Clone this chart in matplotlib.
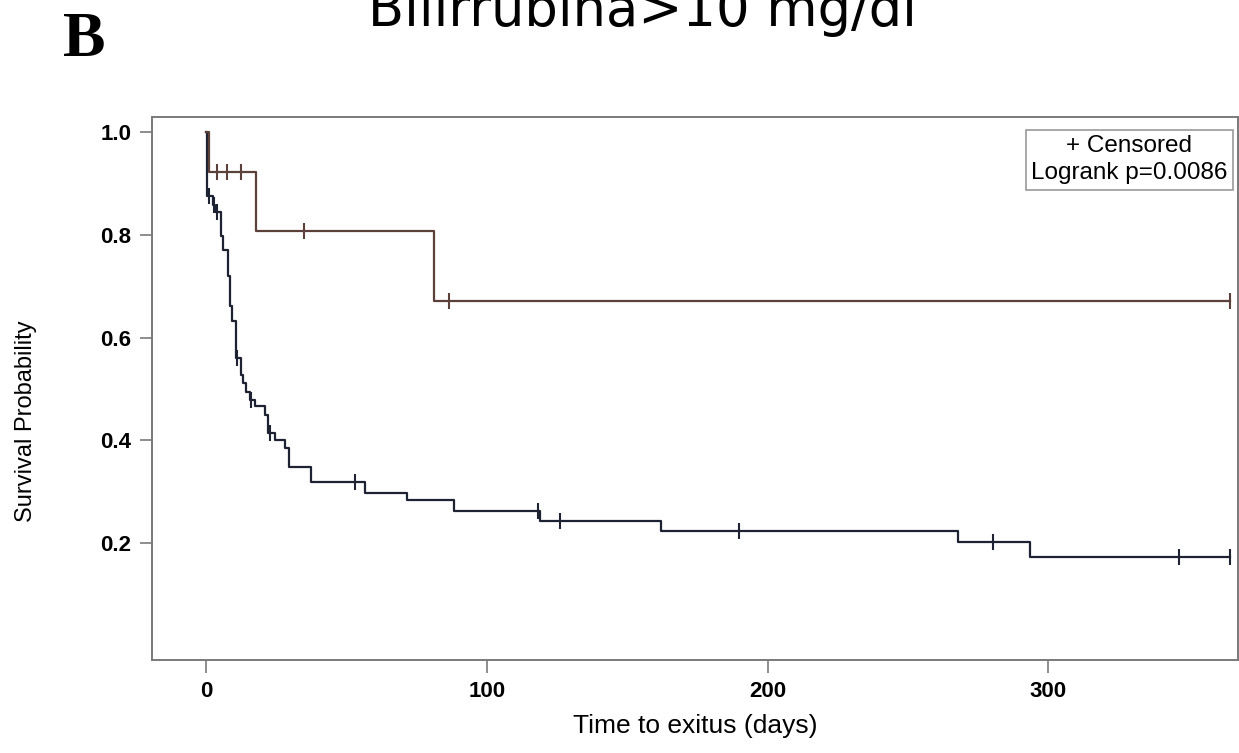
import numpy as np
import matplotlib
matplotlib.use("Agg")
import matplotlib.pyplot as plt

# Kaplan-Meier estimates, bilirubin > 10 mg/dl
# group 1 (upper curve)
t_hi = [0, 1, 17.5, 81.2]
s_hi = [1.0, 0.923, 0.808, 0.672]
cens_hi = [3.7, 7.3, 12.2, 34.8, 86.5, 365]
end_hi = 365

# group 2 (lower curve)
t_lo = [0, 0.3, 2.3, 3.0, 5.3, 6.0, 7.6, 8.4, 9.0, 10.5, 10.7, 12.3, 13.0, 14.0,
        15.6, 17.3, 20.9, 22.0, 24.5, 28.1, 29.6, 37.2, 56.5, 71.4, 88.3,
        118.9, 162.0, 268.0, 293.6]
s_lo = [1.0, 0.876, 0.859, 0.844, 0.798, 0.770, 0.720, 0.662, 0.632, 0.616,
        0.561, 0.528, 0.512, 0.495, 0.479, 0.466, 0.450, 0.415, 0.401, 0.385,
        0.349, 0.318, 0.297, 0.283, 0.263, 0.243, 0.223, 0.201, 0.173]
cens_lo = [0.8, 2.6, 3.7, 11.0, 15.9, 22.6, 52.9, 118.3, 126.0, 190.0, 280.4,
           346.8, 364.9]
end_lo = 365

c_hi = "#5b4139"
c_lo = "#1e2333"


def km_at(times, surv, t):
    idx = np.searchsorted(times, t, side="right") - 1
    return np.asarray(surv)[idx]


fig = plt.figure(figsize=(12.39, 7.53), dpi=100)
ax = fig.add_axes([0.1227, 0.1235, 0.8765, 0.7211])

sans = ["Liberation Sans", "DejaVu Sans"]

for t, s, cens, end, col in [(t_lo, s_lo, cens_lo, end_lo, c_lo),
                             (t_hi, s_hi, cens_hi, end_hi, c_hi)]:
    tt = list(t) + [end]
    ss = list(s) + [s[-1]]
    ax.step(tt, ss, where="post", color=col, lw=1.6)
    ax.plot(cens, km_at(t, s, cens), ls="none", marker="|", ms=11,
            mew=1.5, color=col)

ax.set_xlim(-19.4, 367.7)
ax.set_ylim(-0.028, 1.03)
ax.set_xticks([0, 100, 200, 300])
ax.set_yticks([0.2, 0.4, 0.6, 0.8, 1.0])
ax.set_yticklabels(["0.2", "0.4", "0.6", "0.8", "1.0"])

for sp in ax.spines.values():
    sp.set_color("#7a7a7a")
    sp.set_linewidth(1.4)
ax.tick_params(direction="out", length=9, width=1.2, color="#7a7a7a",
               pad=6)
for lab in ax.get_xticklabels() + ax.get_yticklabels():
    lab.set_family(sans)
    lab.set_fontsize(16)
    lab.set_fontweight("bold")

ax.set_xlabel("Time to exitus (days)", family=sans, fontsize=19, labelpad=9)
ax.set_ylabel("Survival Probability", family=sans, fontsize=17)
ax.yaxis.set_label_coords(-0.106, 0.44)

ax.text(0.9, 0.921, "+ Censored\nLogrank p=0.0086", transform=ax.transAxes,
        ha="center", va="center", family=sans,
        fontsize=17.5, linespacing=1.3,
        bbox=dict(boxstyle="square,pad=0.22", fc="white", ec="#9a9a9a",
                  lw=1.2))

fig.text(0.5185, 0.965, "Bilirrubina>10 mg/dl", ha="center", va="baseline",
         family="DejaVu Sans", fontsize=38)
fig.text(0.051, 0.926, "B", ha="left", va="baseline",
         family=["Liberation Serif", "DejaVu Serif"], fontsize=46,
         fontweight="bold")

fig.savefig("out.png", dpi=100)
